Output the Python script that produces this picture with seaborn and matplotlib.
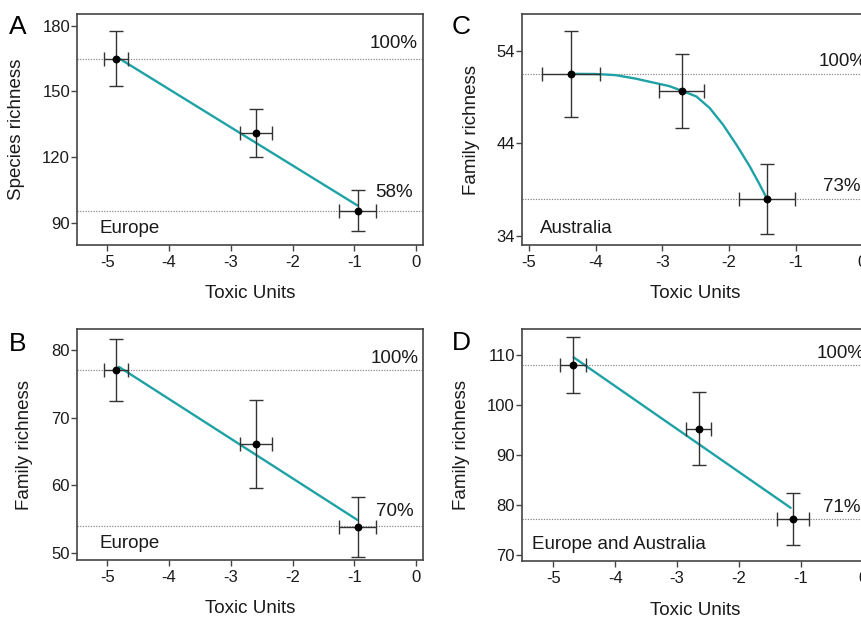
import matplotlib
matplotlib.use("Agg")
import matplotlib.pyplot as plt
import seaborn as sns

# ---------------- data ----------------
# Panel A: Europe, species richness
tu_A = [-4.86, -2.59, -0.95]
tu_err_A = [0.19, 0.26, 0.30]
rich_A = [165.0, 131.0, 95.7]
rich_err_A = [12.5, 11.0, 9.4]
fit_A_x = [-4.84, -0.95]
fit_A_y = [165.6, 98.0]
ref_A = [165.0, 95.7]
pct_A = ["100%", "58%"]

# Panel B: Europe, family richness
tu_B = [-4.86, -2.59, -0.95]
tu_err_B = [0.19, 0.26, 0.30]
rich_B = [77.05, 66.1, 53.9]
rich_err_B = [4.6, 6.5, 4.45]
fit_B_x = [-4.81, -0.95]
fit_B_y = [77.5, 54.9]
ref_B = [77.0, 54.0]
pct_B = ["100%", "70%"]

# Panel C: Australia, family richness
tu_C = [-4.37, -2.71, -1.43]
tu_err_C = [0.43, 0.34, 0.42]
rich_C = [51.5, 49.7, 38.0]
rich_err_C = [4.6, 4.0, 3.8]
fit_C_x = [-4.36, -4.0, -3.7, -3.4, -3.14, -2.9, -2.71, -2.49, -2.29, -2.09,
           -1.89, -1.69, -1.54, -1.43]
fit_C_y = [51.52, 51.5, 51.38, 51.0, 50.58, 50.2, 49.7, 49.07, 47.82, 46.02,
           43.86, 41.52, 39.54, 38.0]
ref_C = [51.5, 38.0]
pct_C = ["100%", "73%"]

# Panel D: Europe and Australia, family richness
tu_D = [-4.68, -2.65, -1.13]
tu_err_D = [0.21, 0.20, 0.26]
rich_D = [108.0, 95.3, 77.3]
rich_err_D = [5.6, 7.3, 5.2]
fit_D_x = [-4.67, -1.165]
fit_D_y = [109.5, 79.5]
ref_D = [108.0, 77.3]
pct_D = ["100%", "71%"]

xticks = [-5, -4, -3, -2, -1, 0]
yticks_A = [90, 120, 150, 180]
yticks_B = [50, 60, 70, 80]
yticks_C = [34, 44, 54]
yticks_D = [70, 80, 90, 100, 110]

# ---------------- style ----------------
sns.set_style("ticks")
plt.rcParams["font.family"] = ["Liberation Sans", "DejaVu Sans"]

TEAL = "#1fa2a6"
FRAME = "#444444"
ERR = "#333333"

W, H = 861, 617
fig = plt.figure(figsize=(W / 100, H / 100), dpi=100)


def px_axes(l, t, r, b):
    return fig.add_axes([l / W, 1 - b / H, (r - l) / W, (b - t) / H])


def panel(ax, tu, tu_err, rich, rich_err, fx, fy, ref, pct, yticks, xlim, ylim,
          ylabel, region, pct_pos, ylab_x):
    for yv in ref:
        ax.axhline(yv, color="#8a8a8a", ls=(0, (1.2, 1.2)), lw=0.8, zorder=1)
    sns.lineplot(x=fx, y=fy, ax=ax, color=TEAL, lw=1.7, sort=False,
                 estimator=None, zorder=2)
    ax.errorbar(tu, rich, xerr=tu_err, yerr=rich_err, fmt="none",
                ecolor=ERR, elinewidth=1.0, capsize=5.2, capthick=1.0, zorder=3)
    sns.scatterplot(x=tu, y=rich, ax=ax, color="black", s=32, edgecolor="black",
                    linewidth=0, zorder=4)
    ax.set_xlim(*xlim)
    ax.set_ylim(*ylim)
    ax.set_xticks(xticks)
    ax.set_xticklabels([str(v) for v in xticks])
    ax.set_yticks(yticks)
    ax.set_yticklabels([str(v) for v in yticks])
    ax.tick_params(axis="both", labelsize=12, length=4, width=1.0,
                   color=FRAME, labelcolor="#1a1a1a")
    ax.tick_params(axis="y", pad=1)
    ax.tick_params(axis="x", pad=3)
    for s in ax.spines.values():
        s.set_color(FRAME)
        s.set_linewidth(1.2)
        s.set_visible(True)
    ax.set_xlabel("Toxic Units", fontsize=13.5, color="#1a1a1a")
    ax.set_ylabel(ylabel, fontsize=13.5, color="#1a1a1a")
    ax.xaxis.set_label_coords(0.5, -0.175)
    ax.yaxis.set_label_coords(ylab_x, 0.5)
    ax.text(region[0], region[1], region[2], transform=ax.transAxes,
            fontsize=13.5, ha="left", va="baseline", color="#1a1a1a")
    for (xv, ha, off), yv, lab in zip(pct_pos, ref, pct):
        ax.annotate(lab, (xv, yv), xytext=(0, off), textcoords="offset points",
                    ha=ha, va="baseline", fontsize=13.5, color="#1a1a1a")


axA = px_axes(77, 14, 423, 245)
panel(axA, tu_A, tu_err_A, rich_A, rich_err_A, fit_A_x, fit_A_y, ref_A, pct_A,
      yticks_A, (-5.49, 0.11), (80, 185.3), "Species richness",
      (0.064, 0.052, "Europe"), [(0.03, "right", 7.5), (-0.05, "right", 10)], -0.150)

axB = px_axes(77, 329.3, 423, 560)
panel(axB, tu_B, tu_err_B, rich_B, rich_err_B, fit_B_x, fit_B_y, ref_B, pct_B,
      yticks_B, (-5.49, 0.11), (49, 83.05), "Family richness",
      (0.064, 0.051, "Europe"), [(0.034, "right", 5.2), (-0.035, "right", 7.5)], -0.127)

axC = px_axes(521.7, 14.3, 869, 245)
panel(axC, tu_C, tu_err_C, rich_C, rich_err_C, fit_C_x, fit_C_y, ref_C, pct_C,
      yticks_C, (-5.11, 0.1), (33, 57.96), "Family richness",
      (0.053, 0.051, "Australia"), [(-0.66, "left", 5.8), (-0.59, "left", 5.8)], -0.120)

axD = px_axes(521.7, 329.3, 869, 561)
panel(axD, tu_D, tu_err_D, rich_D, rich_err_D, fit_D_x, fit_D_y, ref_D, pct_D,
      yticks_D, (-5.51, 0.1), (68.9, 115.1), "Family richness",
      (0.029, 0.052, "Europe and Australia"), [(-0.745, "left", 5.0), (-0.65, "left", 5.0)], -0.149)

for lab, x, y in [("A", 9, 34), ("C", 452, 34), ("B", 9, 351), ("D", 452, 350)]:
    fig.text(x / W, 1 - y / H, lab, fontsize=19, ha="left", va="baseline", color="black")

fig.savefig("out.png", dpi=100)
